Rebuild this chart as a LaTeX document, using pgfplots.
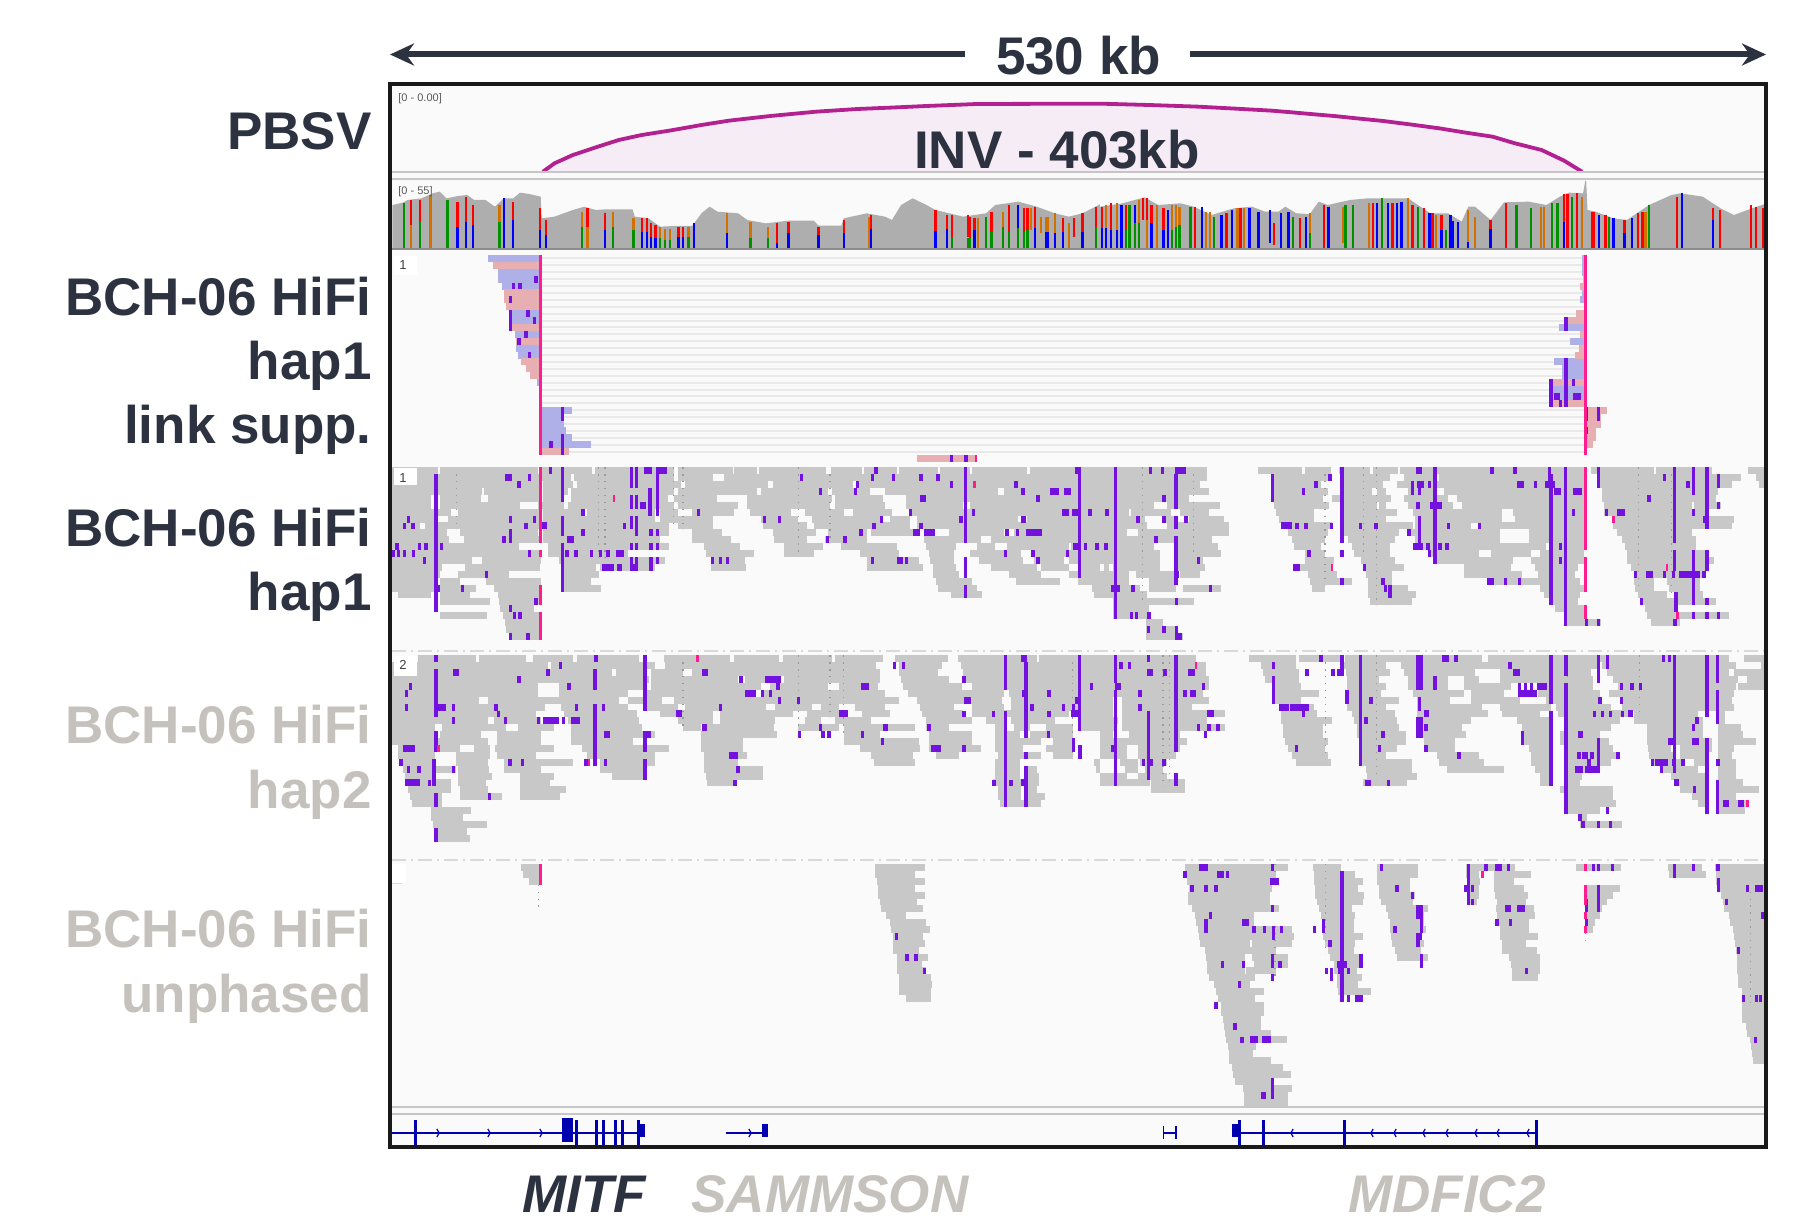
\documentclass[border=0pt]{standalone}
\usepackage{fontspec}
\setmainfont{Liberation Sans}
\usepackage{pgfplots}
\pgfplotsset{compat=1.18}
\usetikzlibrary{arrows.meta}
\definecolor{rd}{HTML}{C8C8C8}
\definecolor{pu}{HTML}{7311DF}
\definecolor{pk}{HTML}{FF1C8E}
\definecolor{spk}{HTML}{E8AFB3}
\definecolor{sbl}{HTML}{B0B0E8}
\definecolor{cov}{HTML}{AEAEAE}
\definecolor{cr}{HTML}{FF0000}
\definecolor{cb}{HTML}{0000FF}
\definecolor{cg}{HTML}{009000}
\definecolor{co}{HTML}{D27000}
\definecolor{dk}{HTML}{2D3240}
\definecolor{lt}{HTML}{C5C2BD}
\definecolor{bg}{HTML}{FAFAFA}
\definecolor{gn}{HTML}{0000B0}
\definecolor{arc}{HTML}{B3208F}
\definecolor{arf}{HTML}{F6ECF5}
\pgfdeclareplotmark{chR}{\pgfpathmoveto{\pgfpoint{-.6pt}{2pt}}\pgfpathlineto{\pgfpoint{.6pt}{0pt}}\pgfpathlineto{\pgfpoint{-.6pt}{-2pt}}\pgfusepathqstroke}
\pgfdeclareplotmark{chL}{\pgfpathmoveto{\pgfpoint{.6pt}{2pt}}\pgfpathlineto{\pgfpoint{-.6pt}{0pt}}\pgfpathlineto{\pgfpoint{.6pt}{-2pt}}\pgfusepathqstroke}
% horizontal spans: row, from, to
\newcommand\hs[6][line width=3.5pt]{\addplot[#2,#1,quiver={u=(\thisrow{b}-\thisrow{a})/#4,v=0}] table[row sep=\\,x expr=#3+\thisrow{a}/#4,y expr=#5+6.9*(\thisrow{r}+0.5)] {r a b\\ #6};}
% vertical spans: x, first row, last row
\newcommand\vs[6][line width=1.7pt]{\addplot[#2,#1,quiver={u=0,v=6.9*(\thisrow{s}-\thisrow{r}+1)}] table[row sep=\\,x expr=#3+\thisrow{a}/#4,y expr=#5+6.9*\thisrow{r}] {a r s\\ #6};}
% coverage bars: x, top, bottom
\newcommand\cvb[4]{\addplot[#1,line width=1.15pt,quiver={u=0,v=(\thisrow{e}-\thisrow{t})/3}] table[row sep=\\,x expr=#2+\thisrow{a}/#3,y expr=70+\thisrow{t}/3] {a t e\\ #4};}
\newcommand\crv[4]{\addplot[#1] table[row sep=\\,x expr=#2+\thisrow{a}/#3,y expr=70+\thisrow{v}/3] {a v\\ #4};}
\newcommand\dts[4]{\vs[line width=.55pt,dash pattern=on .7pt off 2.75pt]{gray!80}{#1}{#2}{#3}{#4}}
\begin{document}
\begin{tikzpicture}
\begin{axis}[hide axis,scale only axis,width=907.5pt,height=609.5pt,xmin=0,xmax=1815,ymin=0,ymax=1219,y dir=reverse,clip=false]
\path (axis cs:0,0) rectangle (axis cs:1815,1219);
\addplot[fill=bg,draw=none] coordinates {(390,84)(1766,84)(1766,1147)(390,1147)} --cycle;
% inversion arc
\crv{fill=arf,draw=none}{380}{2.178}{355 305\\380 280\\420 255\\470 232\\520 210\\570 195\\630 182\\700 165\\760 152\\850 138\\950 125\\1040 117\\1110 113\\1190 108\\1300 102\\1568 101\\1675 105\\1782 110\\1864 116\\1942 122\\1986 127\\2035 133\\2078 138\\2127 145\\2185 153\\2248 164\\2307 175\\2365 188\\2423 200\\2472 220\\2530 240\\2579 272\\2618 305\\}
\crv{draw=arc,line width=1.9pt}{380}{2.178}{355 305\\380 280\\420 255\\470 232\\520 210\\570 195\\630 182\\700 165\\760 152\\850 138\\950 125\\1040 117\\1110 113\\1190 108\\1300 102\\1568 101\\1675 105\\1782 110\\1864 116\\1942 122\\1986 127\\2035 133\\2078 138\\2127 145\\2185 153\\2248 164\\2307 175\\2365 188\\2423 200\\2472 220\\2530 240\\2579 272\\2618 305\\}
% coverage profile
\crv{fill=cov,draw=none}{380}{2.178}{27 536\\27 405\\50 398\\60 390\\90 385\\115 370\\130 365\\145 385\\170 378\\190 375\\205 390\\230 390\\250 410\\270 385\\290 385\\305 368\\325 372\\350 380\\352 445\\380 440\\400 430\\420 420\\445 410\\470 420\\490 418\\550 418\\555 440\\585 445\\610 470\\640 468\\680 468\\700 430\\718 410\\735 425\\780 430\\800 450\\840 460\\890 452\\945 452\\955 467\\1005 467\\1010 445\\1060 430\\1100 440\\1115 450\\1135 405\\1160 385\\1190 405\\1210 420\\1270 440\\1320 430\\1340 405\\1390 395\\1430 410\\1470 430\\1500 440\\1530 430\\1568 403\\1568 536\\}
\crv{fill=cov,draw=none}{1100}{2.24}{0 536\\0 410\\50 400\\100 382\\130 405\\180 400\\210 410\\250 435\\300 415\\340 410\\370 425\\400 425\\415 410\\440 430\\470 432\\490 395\\510 405\\560 390\\600 385\\690 385\\740 430\\780 430\\810 455\\825 410\\840 410\\875 450\\905 397\\960 395\\1000 405\\1030 380\\1050 368\\1082 370\\1087 332\\1089 332\\1092 420\\1110 425\\1150 445\\1180 450\\1230 405\\1280 375\\1300 370\\1350 380\\1390 415\\1420 435\\1450 420\\1487 403\\1487 536\\}
\cvb{cr}{380}{2.178}{68 390 465\\87 390 455\\169 395 470\\188 380 455\\203 405 465\\290 395 450\\349 415 480\\361 450 495\\452 415 470\\490 428 480\\570 445 485\\582 445 485\\590 460 500\\600 465 505\\650 470 500\\660 470 500\\865 460 520\\890 455 490\\955 470 495\\1010 450 490\\1070 435 478\\1210 420 482\\1235 435 478\\1246 435 500\\1280 435 500\\1285 440 505\\1295 445 480\\1332 425 485\\1370 405 485\\1402 415 485\\1410 415 480\\1427 410 475\\1487 445 485\\1512 445 500\\1530 430 485\\1560 410 470\\}
\cvb{co}{380}{2.178}{68 465 536\\110 375 536\\260 405 455\\440 425 470\\452 470 536\\507 425 470\\552 445 480\\610 470 505\\620 478 510\\632 478 510\\672 470 500\\756 430 490\\807 455 505\\845 470 505\\1065 440 536\\1302 445 536\\1357 425 470\\1418 415 480\\1440 440 490\\1450 440 485\\1455 440 485\\1470 430 490\\1500 460 536\\}
\cvb{cg}{380}{2.178}{53 400 536\\87 455 536\\147 390 536\\260 455 536\\440 470 536\\507 470 536\\552 480 536\\610 505 536\\620 510 536\\632 510 536\\672 500 536\\807 505 536\\845 505 536\\1246 500 536\\1280 505 536\\1285 505 536\\1320 440 536\\1332 485 536\\1357 470 536\\1370 485 536\\1390 475 536\\1402 485 536\\1410 480 536\\1560 470 536\\}
\cvb{cb}{380}{2.178}{169 470 536\\188 455 536\\203 465 536\\270 385 536\\290 450 536\\349 480 536\\361 495 536\\490 480 536\\570 485 536\\582 485 536\\590 500 536\\600 505 536\\650 500 536\\660 500 536\\684 460 536\\756 490 536\\865 520 536\\890 490 536\\955 495 536\\1010 490 536\\1070 478 536\\1210 482 536\\1235 478 536\\1295 480 536\\1390 405 475\\1427 475 536\\1450 485 536\\1455 485 536\\1470 490 536\\1487 485 536\\1530 485 536\\}
\cvb{cr}{1100}{2.24}{5 410 475\\25 400 480\\58 405 480\\96 385 450\\105 385 450\\115 405 460\\142 415 480\\212 410 536\\283 430 536\\315 415 536\\390 460 525\\448 445 536\\502 405 536\\612 400 536\\655 400 536\\700 405 536\\725 415 536\\745 430 536\\765 435 480\\875 450 478\\910 400 536\\1040 372 455\\1047 372 536\\1068 370 536\\1102 425 536\\1106 425 536\\1132 435 536\\1175 450 490\\1205 430 536\\1215 425 536\\1292 380 536\\1373 415 450\\1388 420 536\\1458 405 536\\1470 410 536\\1485 415 536\\}
\cvb{co}{1100}{2.24}{14 405 475\\38 400 480\\88 390 460\\105 450 536\\128 405 536\\162 405 480\\170 405 470\\178 410 465\\238 425 536\\246 425 536\\308 415 536\\322 415 536\\470 430 490\\545 410 520\\602 400 536\\690 385 536\\752 435 536\\825 420 515\\840 440 536\\988 410 536\\995 410 536\\1080 380 536\\1222 425 536\\}
\cvb{cg}{1100}{2.24}{58 480 536\\66 405 536\\78 460 536\\88 460 536\\162 480 536\\170 470 536\\178 465 536\\203 410 536\\256 440 536\\432 440 536\\470 490 536\\550 405 536\\566 405 536\\632 385 536\\712 410 536\\775 480 536\\933 405 536\\965 415 536\\1012 400 536\\1025 400 536\\1057 380 536\\1140 440 536\\1230 405 536\\}
\cvb{cb}{1100}{2.24}{5 475 536\\14 475 536\\25 480 536\\38 480 536\\48 405 536\\78 405 460\\115 460 536\\142 480 536\\152 420 536\\228 410 536\\272 435 536\\295 420 536\\335 415 536\\355 425 536\\380 420 520\\405 430 536\\422 425 536\\462 440 536\\512 410 536\\620 400 536\\645 400 536\\665 400 536\\675 395 536\\738 430 536\\765 480 536\\785 435 536\\790 452 536\\802 455 536\\825 515 536\\875 478 536\\1040 455 536\\1118 435 536\\1150 445 536\\1175 490 536\\1192 445 536\\1303 370 536\\1373 450 536\\}
% panel lines
\addplot[color=gray!45,line width=1pt] coordinates {(392,172.5)(1764,172.5)};
\addplot[color=gray!45,line width=1pt] coordinates {(392,179.5)(1764,179.5)};
\addplot[color=gray!90,line width=.8pt] coordinates {(392,249)(1764,249)};
\addplot[color=gray!30,line width=1pt,dash pattern=on 7pt off 2.5pt on 1pt off 2.5pt] coordinates {(392,651)(1764,651)};
\addplot[color=gray!30,line width=1pt,dash pattern=on 7pt off 2.5pt on 1pt off 2.5pt] coordinates {(392,859.5)(1764,859.5)};
\addplot[color=gray!45,line width=1pt] coordinates {(392,1106.5)(1764,1106.5)};
\addplot[color=gray!45,line width=1pt] coordinates {(392,1113.5)(1764,1113.5)};
% link-supported panel
\hs[line width=1pt]{gray!17}{0}{1}{255}{0 541 1586\\1 541 1586\\2 541 1586\\3 541 1586\\4 541 1586\\5 541 1586\\6 541 1586\\7 541 1586\\8 541 1586\\9 541 1586\\10 541 1586\\11 541 1586\\12 541 1586\\13 541 1586\\14 541 1586\\15 541 1586\\16 541 1586\\17 541 1586\\18 541 1586\\19 541 1586\\20 541 1586\\21 541 1586\\22 541 1586\\23 541 1586\\24 541 1586\\25 541 1586\\26 541 1586\\27 541 1586\\28 541 1586\\}
\hs{sbl}{380}{2.178}{255}{0 236 348\\2 258 348\\3 258 348\\4 266 348\\8 280 348\\9 280 348\\11 293 348\\13 297 348\\14 300 348\\18 341 348\\19 346 348\\22 352 419\\23 352 400\\24 352 400\\25 352 405\\26 352 418\\27 352 460\\}
\hs{spk}{380}{2.178}{255}{1 247 348\\5 270 348\\6 270 348\\7 274 348\\10 285 348\\12 297 348\\15 307 348\\16 317 348\\17 326 348\\28 352 412\\29 1170 1300\\}
\hs{sbl}{1100}{2.24}{255}{0 1080 1086\\1 1080 1086\\2 1080 1086\\5 1080 1086\\6 1075 1086\\10 1028 1086\\12 1052 1086\\15 1017 1086\\16 1035 1086\\17 1035 1086\\19 1007 1086\\20 1007 1086\\}
\hs{spk}{1100}{2.24}{255}{3 1083 1086\\4 1075 1086\\8 1067 1086\\9 1047 1086\\11 1075 1086\\13 1072 1086\\14 1063 1086\\18 1007 1086\\21 1007 1086\\22 1090 1136\\23 1090 1122\\24 1090 1122\\25 1090 1110\\26 1090 1110\\27 1090 1105\\28 1088 1090\\}
\vs{pu}{380}{2.178}{255}{340 3 3\\291 4 4\\305 4 4\\284 6 6\\322 8 8\\284 8 10\\337 9 9\\318 11 11\\303 12 12\\325 14 14\\397 22 23\\372 27 27\\397 26 28\\1245 29 29\\1276 29 29\\}
\vs[line width=1.3pt]{pk}{380}{2.178}{255}{350 0 28\\1298 29 29\\}
\vs{pu}{1100}{2.24}{255}{1044 9 10\\1044 15 21\\1060 18 18\\1010 18 21\\1032 21 21\\1090 22 23\\1117 22 23\\1090 25 25\\}
\hs{pu}{1100}{2.24}{255}{20 1016 1030\\20 1060 1078\\}
\vs[line width=1.3pt]{pk}{1100}{2.24}{255}{1088 0 28\\}
% HAP1 reads
\hs{rd}{380}{2.178}{467.3}{0 27 127\\0 131 345\\0 352 462\\0 468 640\\0 648 768\\0 772 820\\0 825 972\\0 982 1050\\0 1055 1125\\0 1130 1215\\0 1220 1285\\0 1290 1410\\0 1415 1568\\
1 27 350\\1 352 415\\1 422 640\\1 650 725\\1 750 1568\\
2 27 350\\2 355 420\\2 430 655\\2 665 845\\2 855 1030\\2 1040 1568\\
3 27 222\\3 226 350\\3 355 410\\3 415 640\\3 650 820\\3 830 975\\3 985 1068\\3 1100 1345\\3 1360 1568\\
4 27 110\\4 130 220\\4 235 350\\4 355 400\\4 415 628\\4 640 735\\4 800 985\\4 990 1095\\4 1145 1568\\
5 27 110\\5 131 305\\5 345 400\\5 410 640\\5 650 780\\5 800 980\\5 990 1100\\5 1145 1270\\5 1285 1568\\
6 27 155\\6 170 350\\6 355 440\\6 450 600\\6 610 650\\6 680 770\\6 805 895\\6 925 1010\\6 1030 1115\\6 1155 1568\\
7 27 125\\7 148 350\\7 355 600\\7 610 725\\7 830 910\\7 940 1090\\7 1110 1155\\7 1170 1390\\7 1410 1568\\
8 27 88\\8 98 350\\8 355 630\\8 650 725\\8 835 930\\8 945 1155\\8 1170 1568\\
9 27 145\\9 175 345\\9 355 630\\9 680 745\\9 855 950\\9 975 1060\\9 1070 1160\\9 1240 1360\\9 1380 1568\\
10 27 60\\10 62 150\\10 183 350\\10 355 610\\10 680 765\\10 858 930\\10 970 1060\\10 1185 1310\\10 1330 1568\\
11 27 302\\11 365 630\\11 705 785\\11 880 965\\11 1005 1125\\11 1190 1255\\11 1300 1340\\11 1365 1500\\11 1505 1568\\
12 27 350\\12 365 540\\12 710 815\\12 880 945\\12 1045 1130\\12 1195 1250\\12 1285 1395\\12 1425 1568\\
13 27 200\\13 222 350\\13 390 620\\13 720 795\\13 1060 1175\\13 1197 1250\\13 1305 1400\\13 1425 1490\\13 1500 1568\\
14 27 135\\14 185 348\\14 395 470\\14 480 600\\14 720 797\\14 1060 1182\\14 1205 1255\\14 1330 1430\\14 1440 1500\\14 1520 1568\\
15 27 130\\15 170 280\\15 395 478\\15 1205 1260\\15 1370 1440\\15 1500 1568\\
16 27 120\\16 130 175\\16 230 350\\16 395 460\\16 1210 1290\\16 1385 1482\\16 1520 1568\\
17 27 125\\17 130 210\\17 248 350\\17 395 482\\17 1215 1300\\17 1550 1568\\
18 40 110\\18 130 195\\18 258 350\\18 1243 1312\\18 1555 1568\\
19 130 240\\19 260 350\\20 262 335\\21 130 232\\21 268 350\\22 272 350\\23 275 350\\24 280 350\\}
\hs{rd}{1100}{2.24}{467.3}{0 0 240\\0 355 452\\0 460 518\\0 535 605\\0 612 668\\0 672 1085\\0 1100 1240\\0 1245 1370\\0 1452 1487\\
1 0 240\\1 385 515\\1 540 650\\1 680 750\\1 760 1085\\1 1118 1435\\1 1470 1487\\
2 0 225\\2 385 495\\2 545 635\\2 665 1085\\2 1118 1415\\2 1475 1487\\
3 0 245\\3 385 510\\3 545 610\\3 620 640\\3 690 750\\3 770 1085\\3 1125 1385\\
4 0 200\\4 385 500\\4 520 652\\4 680 780\\4 800 1085\\4 1125 1380\\
5 0 120\\5 150 268\\5 390 512\\5 545 620\\5 625 640\\5 690 790\\5 810 1085\\5 1130 1325\\5 1330 1390\\
6 0 65\\6 70 160\\6 180 245\\6 395 480\\6 545 665\\6 700 900\\6 925 1085\\6 1130 1360\\
7 0 100\\7 145 175\\7 200 278\\7 400 480\\7 545 640\\7 705 900\\7 930 1085\\7 1150 1420\\
8 0 105\\8 150 290\\8 408 520\\8 545 700\\8 705 830\\8 850 1085\\8 1150 1415\\
9 0 60\\9 85 290\\9 420 510\\9 545 670\\9 690 895\\9 960 1085\\9 1158 1325\\
10 0 120\\10 130 250\\10 430 505\\10 555 660\\10 705 895\\10 960 1085\\10 1170 1335\\
11 0 120\\11 165 265\\11 435 495\\11 565 650\\11 700 1000\\11 1005 1085\\11 1175 1335\\
12 0 135\\12 165 272\\12 460 505\\12 570 650\\12 740 850\\12 875 965\\12 985 1085\\12 1180 1365\\
13 0 135\\13 165 230\\13 460 525\\13 585 660\\13 750 925\\13 965 1085\\13 1180 1375\\
14 10 20\\14 30 135\\14 175 235\\14 435 520\\14 590 680\\14 815 920\\14 975 1070\\14 1190 1360\\
15 0 65\\15 80 175\\15 180 225\\15 465 530\\15 595 655\\15 815 945\\15 980 1065\\15 1195 1355\\
16 0 65\\16 110 175\\16 470 565\\16 600 655\\16 870 1075\\16 1195 1240\\16 1270 1345\\
17 0 90\\17 110 170\\17 185 272\\17 475 505\\17 600 690\\17 985 1085\\17 1198 1240\\17 1275 1345\\
18 0 105\\18 600 708\\18 995 1075\\18 1205 1270\\18 1285 1350\\
19 30 210\\19 605 698\\19 1010 1070\\19 1210 1380\\
20 30 110\\20 1020 1085\\20 1220 1290\\
21 30 112\\21 1040 1090\\21 1225 1410\\
22 103 140\\22 1040 1122\\22 1235 1300\\
23 103 175\\24 103 185\\}
\dts{380}{2.178}{467.3}{166 1 8\\475 0 13\\490 0 13\\912 0 12\\980 1 10\\640 0 8\\660 0 8\\}
\dts{1100}{2.24}{467.3}{96 0 19\\210 1 12\\504 1 16\\590 0 12\\620 0 19\\1207 0 17\\1280 1 18\\}
\vs{pu}{380}{2.178}{467.3}{122 1 20\\397 0 4\\397 7 9\\397 11 17\\548 0 2\\558 0 2\\548 4 5\\558 4 5\\588 3 6\\604 0 6\\548 7 8\\558 7 9\\548 11 11\\558 11 11\\548 13 14\\558 13 14\\590 9 9\\605 9 9\\590 11 11\\605 11 11\\590 13 14\\605 13 13\\371 0 0\\325 1 1\\303 2 2\\284 7 7\\337 7 7\\62 7 7\\53 8 8\\72 8 8\\318 8 8\\358 8 8\\284 9 10\\270 10 10\\442 9 9\\442 6 6\\532 8 8\\37 11 11\\86 11 11\\100 11 11\\134 11 11\\30 12 12\\40 12 12\\53 12 12\\73 12 12\\325 12 12\\407 12 12\\427 12 12\\460 12 12\\480 12 12\\497 12 12\\97 13 13\\232 15 15\\126 17 17\\180 17 17\\340 19 19\\284 20 20\\293 21 21\\305 21 21\\284 24 24\\322 24 24\\724 13 13\\741 13 13\\757 13 13\\837 7 7\\870 7 7\\694 6 6\\918 1 1\\1080 0 0\\1073 1 1\\1118 1 1\\1178 1 1\\1215 1 1\\1040 2 2\\1245 2 2\\1385 2 2\\1035 3 3\\960 3 3\\1400 3 3\\1433 4 4\\1155 6 6\\1293 6 6\\1546 6 6\\1092 7 7\\1265 7 7\\1076 8 8\\1178 8 8\\1048 9 9\\1366 9 9\\1388 9 9\\975 10 10\\1013 10 10\\1537 11 11\\1562 11 11\\1362 12 12\\1422 12 12\\1498 12 12\\1073 13 13\\1147 13 13\\1433 13 13\\1275 0 10\\1275 13 15\\1275 17 18\\1523 1 15\\}
\hs{pu}{380}{2.178}{467.3}{0 575 592\\0 602 626\\14 484 510\\14 516 526\\14 544 562\\1 273 287\\5 566 580\\8 352 364\\10 408 422\\12 514 532\\3 1459 1478\\3 1490 1504\\4 1175 1189\\6 1486 1500\\6 1508 1522\\7 1396 1408\\9 1160 1176\\9 1184 1208\\9 1408 1442\\11 1510 1524\\13 1125 1139\\0 1513 1527\\}
\vs[line width=1.3pt]{pk}{380}{2.178}{467.3}{350 0 10\\350 12 12\\350 17 19\\350 21 24\\1295 2 2\\510 4 4\\}
\vs{pu}{1100}{2.24}{467.3}{35 0 21\\170 1 5\\170 7 8\\170 10 16\\113 0 0\\140 0 0\\515 1 1\\484 2 2\\456 3 3\\386 1 4\\542 0 10\\143 4 4\\16 6 6\\85 7 7\\143 7 7\\193 7 7\\125 10 10\\13 11 11\\221 13 13\\74 17 17\\248 17 17\\172 19 19\\70 21 21\\82 21 21\\110 21 21\\108 23 23\\143 23 23\\172 23 23\\441 8 8\\461 8 8\\518 8 8\\584 8 8\\618 8 8\\468 12 12\\542 12 12\\592 14 14\\542 16 16\\634 16 16\\640 17 17\\650 17 18\\750 0 13\\715 2 3\\700 2 3\\738 2 2\\712 5 5\\742 5 5\\715 7 10\\692 9 9\\735 11 11\\762 11 11\\777 11 11\\738 12 12\\780 8 8\\850 8 8\\878 0 0\\930 0 0\\1007 0 1\\975 2 2\\1010 1 19\\1043 0 22\\1060 6 6\\1032 11 11\\1032 13 13\\908 16 16\\940 16 16\\1117 0 2\\1134 6 6\\1287 0 10\\1287 12 14\\1265 1 1\\1230 4 4\\1317 2 2\\1330 0 3\\1360 0 8\\1385 1 2\\1385 5 5\\1330 6 6\\1355 7 7\\1330 12 19\\1360 12 14\\1290 18 20\\1200 15 15\\1265 15 15\\1285 15 15\\1353 15 15\\1213 19 19\\1360 19 19\\1330 21 21\\1360 21 21\\1385 21 21\\1288 22 22\\1090 22 22\\1117 22 22\\}
\hs{pu}{1100}{2.24}{467.3}{0 167 193\\24 167 183\\17 24 44\\15 167 177\\8 406 430\\14 433 449\\0 708 722\\2 711 725\\5 750 766\\11 701 723\\2 934 950\\2 997 1019\\3 1018 1032\\3 1059 1079\\16 867 883\\6 1159 1175\\15 1222 1238\\15 1298 1345\\}
\vs[line width=1.3pt]{pk}{1100}{2.24}{467.3}{1088 0 11\\1088 13 17\\1088 20 21\\520 14 14\\1150 7 7\\1270 14 14\\1293 21 21\\}
% HAP2 reads
\hs{rd}{380}{2.178}{655.3}{0 82 210\\0 215 318\\0 333 420\\0 428 565\\0 618 762\\0 770 870\\0 878 985\\0 990 1095\\0 1122 1238\\0 1258 1430\\0 1435 1568\\
1 27 300\\1 300 365\\1 372 600\\1 620 1080\\1 1130 1225\\1 1265 1568\\
2 27 505\\2 515 580\\2 590 660\\2 680 1090\\2 1130 1215\\2 1270 1568\\
3 27 585\\3 590 780\\3 795 845\\3 880 1090\\3 1135 1240\\3 1270 1568\\
4 27 345\\4 390 580\\4 590 830\\4 850 975\\4 1000 1085\\4 1140 1268\\4 1290 1568\\
5 27 345\\5 390 540\\5 580 795\\5 830 1100\\5 1150 1360\\5 1370 1568\\
6 27 215\\6 235 520\\6 540 615\\6 640 1130\\6 1170 1355\\6 1375 1568\\
7 27 360\\7 395 540\\7 580 650\\7 665 840\\7 860 940\\7 960 1000\\7 1035 1100\\7 1175 1250\\7 1290 1360\\7 1375 1568\\
8 27 340\\8 400 560\\8 610 725\\8 740 900\\8 930 1000\\8 1050 1110\\8 1180 1270\\8 1290 1500\\8 1525 1568\\
9 27 235\\9 248 350\\9 410 565\\9 650 725\\9 740 860\\9 925 960\\9 990 1070\\9 1190 1290\\9 1320 1360\\9 1375 1470\\9 1520 1568\\
10 27 120\\10 135 275\\10 300 380\\10 415 570\\10 660 700\\10 712 858\\10 910 1000\\10 1010 1165\\10 1190 1240\\10 1340 1365\\10 1380 1415\\10 1450 1510\\10 1525 1568\\
11 27 120\\11 130 220\\11 255 350\\11 415 600\\11 700 865\\11 1010 1090\\11 1195 1290\\11 1340 1395\\11 1415 1510\\
12 27 235\\12 255 350\\12 415 550\\12 700 790\\12 1010 1175\\12 1195 1290\\12 1340 1440\\12 1465 1510\\
13 40 175\\13 205 240\\13 250 380\\13 440 630\\13 700 790\\13 1045 1175\\13 1195 1310\\13 1340 1400\\13 1450 1510\\
14 40 120\\14 165 240\\14 255 340\\14 450 600\\14 705 800\\14 1070 1160\\14 1210 1260\\14 1345 1440\\14 1465 1510\\
15 45 120\\15 165 235\\15 270 420\\15 480 600\\15 705 780\\15 1075 1165\\15 1340 1395\\15 1555 1568\\
16 50 165\\16 170 238\\16 270 350\\16 480 580\\16 705 835\\16 1340 1395\\16 1405 1430\\16 1560 1568\\
17 55 120\\17 170 245\\17 305 378\\17 505 580\\17 710 835\\17 1340 1395\\17 1405 1435\\
18 55 155\\18 170 230\\18 305 370\\18 712 775\\18 1335 1395\\18 1405 1435\\
19 60 155\\19 175 235\\19 305 405\\19 1345 1395\\19 1405 1430\\
20 65 135\\20 175 265\\20 305 393\\20 1345 1395\\20 1405 1448\\
21 70 135\\21 1350 1440\\22 110 198\\23 110 180\\24 115 232\\25 120 190\\26 125 195\\}
\hs{rd}{1100}{2.24}{655.3}{0 0 215\\0 333 438\\0 445 540\\0 548 855\\0 870 1410\\0 1442 1487\\
1 0 237\\1 360 440\\1 545 640\\1 675 1120\\1 1125 1425\\1 1480 1487\\
2 0 237\\2 365 445\\2 550 650\\2 680 840\\2 895 1100\\2 1135 1410\\2 1420 1487\\
3 0 245\\3 370 445\\3 553 625\\3 690 780\\3 815 850\\3 895 1105\\3 1150 1430\\3 1450 1487\\
4 0 245\\4 385 450\\4 553 640\\4 690 780\\4 815 920\\4 1000 1105\\4 1160 1425\\4 1430 1487\\
5 0 230\\5 385 490\\5 553 630\\5 700 815\\5 830 905\\5 980 1120\\5 1140 1420\\
6 0 30\\6 50 245\\6 385 450\\6 553 670\\6 710 785\\6 830 940\\6 1000 1125\\6 1170 1415\\
7 0 30\\7 50 205\\7 405 480\\7 553 640\\7 710 855\\7 895 1010\\7 1022 1145\\7 1170 1420\\
8 0 30\\8 50 280\\8 405 485\\8 565 660\\8 710 870\\8 900 985\\8 1025 1190\\8 1195 1340\\8 1385 1400\\
9 0 40\\9 50 240\\9 405 520\\9 570 665\\9 710 830\\9 935 1005\\9 1045 1165\\9 1195 1350\\9 1385 1400\\
10 0 35\\10 50 280\\10 410 500\\10 575 670\\10 710 810\\10 945 1007\\10 1045 1145\\10 1225 1350\\10 1385 1435\\
11 0 28\\11 65 180\\11 410 500\\11 575 685\\11 712 820\\11 945 1005\\11 1030 1120\\11 1225 1350\\11 1385 1440\\
12 0 195\\12 415 510\\12 580 685\\12 725 795\\12 950 1005\\12 1030 1140\\12 1225 1370\\12 1385 1470\\
13 0 60\\13 85 180\\13 420 505\\13 580 665\\13 730 795\\13 960 1005\\13 1045 1150\\13 1228 1280\\13 1300 1370\\13 1385 1420\\
14 0 60\\14 85 170\\14 430 510\\14 580 640\\14 755 850\\14 965 1005\\14 1045 1165\\14 1230 1285\\14 1300 1365\\14 1385 1415\\
15 45 85\\15 90 150\\15 438 518\\15 580 698\\15 760 860\\15 965 1005\\15 1040 1145\\15 1240 1310\\15 1330 1365\\15 1385 1425\\
16 55 85\\16 100 140\\16 595 698\\16 778 905\\16 975 1005\\16 1040 1120\\16 1260 1340\\16 1385 1425\\
17 0 60\\17 85 150\\17 598 710\\17 985 1005\\17 1040 1080\\17 1280 1365\\17 1385 1425\\
18 0 112\\18 115 190\\18 590 688\\18 985 1010\\18 1040 1075\\18 1295 1365\\18 1385 1440\\
19 115 190\\19 1030 1150\\19 1300 1365\\19 1385 1475\\
20 1040 1150\\20 1325 1365\\20 1385 1425\\
21 1040 1155\\21 1340 1365\\21 1385 1450\\
22 1040 1120\\22 1355 1365\\22 1385 1445\\
23 1070 1090\\24 1075 1170\\}
\dts{380}{2.178}{655.3}{912 0 10\\980 0 8\\1010 0 11\\660 1 10\\1508 1 14\\}
\dts{1100}{2.24}{655.3}{141 0 18\\155 0 18\\505 1 14\\620 0 17\\1048 0 22\\1290 0 16\\1208 0 8\\}
\vs{pu}{380}{2.178}{655.3}{122 0 0\\122 2 8\\122 11 13\\118 15 18\\122 20 21\\122 25 26\\470 0 0\\468 2 4\\468 7 15\\577 0 7\\577 11 13\\577 15 17\\1362 0 4\\1362 8 21\\1407 1 11\\1407 14 14\\1407 16 21\\1523 0 10\\1525 13 14\\393 1 1\\366 2 2\\303 3 3\\66 4 4\\58 5 5\\412 4 4\\58 7 7\\160 7 7\\253 7 7\\258 8 8\\273 9 9\\160 9 9\\345 9 9\\400 9 9\\487 7 7\\428 7 7\\492 11 11\\498 11 11\\46 15 15\\62 16 16\\85 16 16\\160 16 16\\108 18 18\\238 20 20\\283 15 15\\310 15 15\\491 15 15\\742 7 7\\780 16 16\\773 18 18\\914 11 11\\960 10 10\\965 11 11\\978 11 11\\1051 11 11\\833 5 5\\851 5 5\\867 4 4\\870 6 6\\912 6 6\\786 3 3\\1120 1 1\\1140 1 1\\1272 3 3\\1272 8 8\\1336 8 8\\1196 10 10\\1272 13 13\\1337 18 18\\1374 18 18\\1403 5 5\\1457 5 5\\1550 4 4\\1489 7 7\\1510 7 7\\1457 8 8\\1420 7 7\\1456 11 11\\1510 12 13\\1095 12 12\\}
\hs{pu}{380}{2.178}{655.3}{2 160 171\\7 123 143\\9 355 389\\9 416 436\\11 575 590\\13 51 77\\13 119 131\\18 54 88\\15 445 457\\8 645 657\\2 701 715\\3 838 873\\5 796 818\\10 701 713\\14 760 780\\8 1000 1020\\4 1048 1066\\10 1095 1107\\6 1273 1287\\13 1199 1221\\18 1396 1408\\8 1505 1525\\6 1514 1526\\0 1395 1409\\}
\vs[line width=1.3pt]{pk}{380}{2.178}{655.3}{128 13 13\\692 0 0\\455 15 15\\}
\vs{pu}{1100}{2.24}{655.3}{35 0 3\\35 5 18\\108 0 0\\108 2 2\\108 8 17\\170 0 13\\170 17 18\\388 1 1\\388 3 6\\542 0 2\\584 0 15\\750 3 4\\715 6 7\\1010 0 6\\1010 8 18\\1044 0 2\\1044 4 22\\1117 0 3\\1287 0 16\\1360 0 8\\1360 12 22\\1383 0 3\\1383 5 9\\1383 18 22\\1117 12 16\\47 1 1\\66 1 1\\146 2 2\\90 5 5\\190 5 5\\232 4 4\\90 7 7\\220 10 10\\244 10 10\\264 10 10\\236 11 11\\97 15 15\\143 15 15\\495 0 0\\464 2 2\\522 2 2\\456 8 8\\553 5 6\\607 6 6\\596 9 9\\634 11 11\\440 13 13\\626 13 13\\597 18 18\\604 18 18\\646 18 18\\797 0 0\\918 1 1\\730 10 10\\730 13 13\\804 14 14\\940 4 4\\953 4 4\\966 4 4\\946 11 12\\1120 6 6\\1168 6 6\\1168 4 4\\1192 4 4\\1210 4 4\\1107 8 8\\1125 8 8\\1144 8 8\\1170 8 8\\1137 0 1\\1262 0 0\\1275 0 0\\1330 10 10\\1337 9 9\\1073 14 14\\1102 14 14\\1160 14 14\\1095 15 15\\1237 15 15\\1285 15 15\\1306 15 15\\1258 16 16\\1332 19 19\\1137 22 22\\1075 23 23\\1082 24 24\\1117 24 24\\1144 24 24\\1384 15 15\\}
\hs{pu}{1100}{2.24}{655.3}{0 707 723\\1 707 723\\2 707 723\\3 707 723\\4 707 723\\9 708 724\\10 708 724\\11 708 724\\2 105 119\\2 197 213\\4 34 46\\5 202 214\\8 240 256\\13 24 36\\15 105 119\\7 402 424\\7 426 468\\0 765 781\\2 924 940\\8 726 738\\5 936 978\\4 978 1002\\11 1070 1082\\12 1325 1341\\12 1272 1288\\14 1080 1094\\16 1063 1081\\16 1086 1118\\15 1243 1273\\18 1286 1298\\21 1396 1410\\21 1430 1442\\8 1182 1194\\2 530 544\\}
\vs[line width=1.3pt]{pk}{1100}{2.24}{655.3}{215 1 1\\1450 21 21\\}
% UNPHASED reads
\hs{rd}{380}{2.178}{864}{0 307 348\\1 312 348\\2 325 348\\0 1078 1186\\1 1078 1166\\2 1082 1186\\3 1085 1166\\4 1085 1186\\5 1090 1170\\6 1092 1182\\7 1103 1145\\8 1110 1190\\9 1112 1197\\10 1118 1182\\11 1118 1186\\12 1118 1175\\13 1125 1193\\14 1125 1180\\15 1125 1190\\16 1130 1200\\17 1130 1203\\18 1130 1200\\19 1145 1200\\}
\hs{rd}{1100}{2.24}{864}{0 190 420\\1 190 395\\2 195 395\\3 200 385\\4 197 380\\5 197 380\\6 205 400\\7 212 345\\8 215 345\\9 220 335\\9 335 430\\10 222 335\\10 335 435\\11 225 335\\11 340 430\\12 235 395\\13 237 325\\13 340 420\\14 240 320\\14 345 420\\15 240 325\\15 328 395\\16 245 348\\17 255 335\\18 260 368\\19 265 348\\20 270 368\\21 272 368\\22 275 360\\23 278 360\\24 280 383\\25 283 418\\26 287 350\\27 288 343\\28 290 383\\29 295 410\\30 297 427\\31 302 385\\32 320 430\\33 322 422\\34 322 422\\
0 476 540\\1 480 572\\2 480 590\\3 482 577\\4 482 592\\5 485 590\\6 490 565\\7 495 572\\8 497 568\\9 497 570\\10 500 590\\11 503 572\\12 510 568\\13 515 590\\14 525 590\\15 525 575\\16 530 587\\17 530 578\\18 533 607\\
0 620 712\\1 620 712\\2 620 695\\3 625 695\\4 625 705\\5 630 700\\6 640 735\\7 645 725\\8 650 725\\9 650 730\\10 652 722\\11 655 725\\12 660 720\\13 665 735\\
0 820 930\\1 820 850\\1 882 966\\2 822 852\\2 882 928\\3 825 850\\3 882 950\\4 825 848\\4 885 958\\5 825 845\\5 890 955\\6 888 972\\7 890 975\\8 893 960\\9 895 960\\10 895 982\\11 900 955\\12 900 978\\13 915 985\\14 920 985\\15 922 985\\16 922 982\\
0 1067 1167\\3 1088 1165\\4 1088 1150\\5 1088 1135\\6 1088 1125\\7 1088 1120\\8 1088 1108\\9 1088 1105\\
0 1272 1348\\1 1275 1357\\
0 1377 1487\\1 1380 1487\\2 1380 1487\\3 1385 1487\\4 1390 1487\\5 1395 1487\\6 1398 1487\\7 1410 1487\\8 1412 1487\\9 1418 1487\\10 1420 1487\\11 1422 1487\\12 1425 1487\\13 1427 1487\\14 1427 1487\\15 1427 1487\\16 1428 1487\\17 1430 1487\\18 1438 1487\\19 1438 1487\\20 1438 1487\\21 1438 1487\\22 1438 1487\\23 1448 1487\\24 1450 1487\\25 1455 1487\\26 1458 1487\\27 1460 1487\\28 1462 1487\\}
\dts{380}{2.178}{864}{345 3 6\\}
\dts{1100}{2.24}{864}{505 0 12\\392 0 2\\392 9 16\\1457 4 20\\1088 10 11\\}
\vs{pu}{380}{2.178}{864}{1125 10 10\\1148 13 13\\1167 13 13\\1186 15 15\\}
\vs[line width=1.3pt]{pk}{380}{2.178}{864}{350 0 2\\}
\vs{pu}{1100}{2.24}{864}{190 1 1\\286 1 1\\206 3 3\\237 3 3\\260 3 3\\387 0 0\\387 6 6\\248 7 7\\237 8 9\\345 9 9\\368 9 9\\406 9 9\\388 9 10\\275 14 14\\322 14 14\\387 13 14\\403 14 14\\387 16 16\\313 17 17\\260 20 20\\302 23 23\\318 25 25\\387 31 31\\387 32 32\\387 33 33\\542 1 19\\480 9 9\\500 8 9\\515 11 11\\585 13 14\\507 15 15\\518 15 16\\557 15 15\\557 19 19\\630 0 0\\665 3 3\\700 4 4\\661 9 9\\720 8 9\\712 11 11\\720 13 14\\825 0 5\\820 3 3\\835 3 3\\835 5 5\\865 0 0\\915 0 0\\889 8 8\\920 8 8\\955 15 15\\1105 0 0\\1117 0 0\\1148 0 0\\1117 3 6\\1090 5 6\\1090 8 8\\1287 0 1\\1330 0 0\\1384 0 0\\1385 2 3\\1450 3 3\\1403 5 5\\1484 7 7\\1430 12 12\\1442 19 19\\1470 19 19\\1480 19 19\\1468 25 25\\}
\hs{pu}{1100}{2.24}{864}{0 221 241\\1 262 278\\2 380 400\\8 317 333\\25 337 353\\25 363 383\\33 360 372\\14 530 554\\15 532 546\\19 572 588\\6 708 724\\7 708 724\\10 708 722\\0 885 901\\6 908 920\\6 935 951\\3 1468 1484\\}
\vs[line width=1.3pt]{pk}{1100}{2.24}{864}{1088 0 0\\1088 3 5\\1088 7 7\\1088 9 9\\857 1 1\\}
% genes
\addplot[color=gn,line width=.8pt] coordinates {(392,1133)(637,1133)};
\addplot[color=gn,line width=.8pt] coordinates {(726,1133)(765,1133)};
\addplot[color=gn,line width=.8pt] coordinates {(1239,1133)(1537,1133)};
\addplot[color=gn,line width=.6pt] coordinates {(1163,1133)(1175,1133)};
\vs[line width=1.5pt]{gn}{380}{2.178}{1120}{78 0 3\\427 0 3\\472 0 3\\487 0 3\\513 0 3\\528 0 3\\562 0 3\\}
\hs[line width=12pt]{gn}{380}{2.178}{1120}{1 397 420\\}
\hs[line width=6.5pt]{gn}{380}{2.178}{1120}{1 562 578\\1 833 844\\}
\vs[line width=1.5pt]{gn}{1100}{2.24}{1120}{313 0 3\\367 0 3\\548 0 3\\978 0 3\\}
\hs[line width=6.5pt]{gn}{1100}{2.24}{1120}{1 295 312\\}
\vs[line width=.7pt]{gn}{1100}{2.24}{1125.5}{142 0 1\\170 0 1\\}
\addplot[color=gn,only marks,mark=chR,mark options={line width=.6pt}] coordinates {(438,1133)(489,1133)(541,1133)(750,1133)};
\addplot[color=gn,only marks,mark=chL,mark options={line width=.6pt}] coordinates {(1292,1133)(1372,1133)(1395,1133)(1424,1133)(1447,1133)(1476,1133)(1498,1133)(1528,1133)};
% frame
\addplot[color=black!90,line width=2pt] coordinates {(390,84)(1766,84)(1766,1147)(390,1147)} --cycle;
% top arrows
\addplot[color=dk,line width=3pt,{Stealth[length=12pt,width=11pt]}-] coordinates {(390,54.5)(965,54.5)};
\addplot[color=dk,line width=3pt,-{Stealth[length=12pt,width=11pt]}] coordinates {(1190,54.5)(1766,54.5)};
% label boxes
\fill[white] (axis cs:394,256) rectangle (axis cs:417,275);
\fill[white] (axis cs:394,468) rectangle (axis cs:417,485);
\fill[white] (axis cs:394,656) rectangle (axis cs:417,676);
\fill[white] (axis cs:392,864) rectangle (axis cs:406,883);
\addplot[color=gray!30,line width=.5pt] coordinates {(392,883)(402,883)};
\node[font=\fontsize{6.5}{7}\selectfont,text=black!75,anchor=base] at (axis cs:403,270) {1};
\node[font=\fontsize{6.5}{7}\selectfont,text=black!75,anchor=base] at (axis cs:403,482) {1};
\node[font=\fontsize{6.5}{7}\selectfont,text=black!75,anchor=base] at (axis cs:403,669) {2};
\node[font=\fontsize{5.5}{6}\selectfont,text=black!65,anchor=base west,inner sep=0pt] at (axis cs:398,102) {[0 - 0.00]};
\node[font=\fontsize{5.5}{6}\selectfont,text=black!65,anchor=base west,inner sep=0pt] at (axis cs:398,195) {[0 - 55]};
% texts
\def\bigf{\fontsize{26.5}{30}\bfseries\selectfont}
\node[font=\bigf,text=dk,anchor=base,inner sep=0pt] at (axis cs:1078.5,74.5) {530 kb};
\node[font=\bigf,text=dk,anchor=base,inner sep=0pt] at (axis cs:1057,168.5) {INV - 403kb};
\node[font=\bigf,text=dk,anchor=base east,inner sep=0pt] at (axis cs:372,149.5) {PBSV};
\node[font=\bigf,text=dk,anchor=base east,inner sep=0pt] at (axis cs:372,315.5) {BCH-06 HiFi};
\node[font=\bigf,text=dk,anchor=base east,inner sep=0pt] at (axis cs:372,379.5) {hap1};
\node[font=\bigf,text=dk,anchor=base east,inner sep=0pt] at (axis cs:372,444) {link supp.};
\node[font=\bigf,text=dk,anchor=base east,inner sep=0pt] at (axis cs:372,546) {BCH-06 HiFi};
\node[font=\bigf,text=dk,anchor=base east,inner sep=0pt] at (axis cs:372,610) {hap1};
\node[font=\bigf,text=lt,anchor=base east,inner sep=0pt] at (axis cs:372,743.5) {BCH-06 HiFi};
\node[font=\bigf,text=lt,anchor=base east,inner sep=0pt] at (axis cs:372,808) {hap2};
\node[font=\bigf,text=lt,anchor=base east,inner sep=0pt] at (axis cs:372,947) {BCH-06 HiFi};
\node[font=\bigf,text=lt,anchor=base east,inner sep=0pt] at (axis cs:372,1012) {unphased};
\node[font=\bigf\itshape,text=dk,anchor=base,inner sep=0pt] at (axis cs:584.5,1212.5) {MITF};
\node[font=\bigf\itshape,text=lt,anchor=base,inner sep=0pt] at (axis cs:830,1212.5) {SAMMSON};
\node[font=\bigf\itshape,text=lt,anchor=base,inner sep=0pt] at (axis cs:1447,1212.5) {MDFIC2};
\end{axis}
\end{tikzpicture}
\end{document}
